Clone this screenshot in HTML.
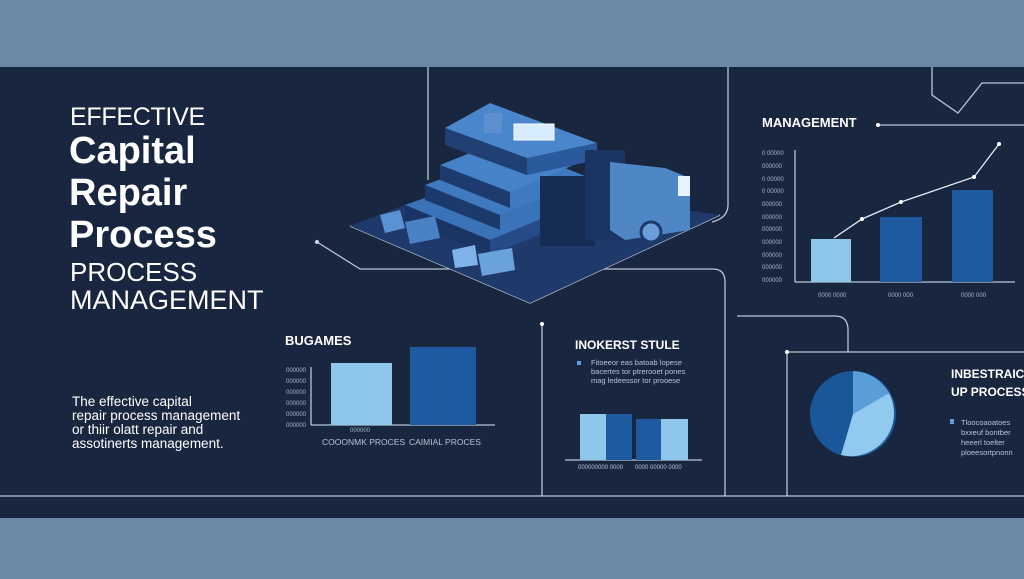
<!DOCTYPE html>
<html><head><meta charset="utf-8"><style>
html,body{margin:0;padding:0;width:1024px;height:579px;overflow:hidden;background:#6c89a6;font-family:"Liberation Sans",sans-serif}
svg{position:absolute;left:0;top:0}
</style></head><body>
<svg width="1024" height="579" viewBox="0 0 1024 579" xmlns="http://www.w3.org/2000/svg" font-family="Liberation Sans, sans-serif">
<rect x="0" y="0" width="1024" height="67" fill="#6c89a6"/>
<rect x="0" y="67" width="1024" height="451" fill="#18263f"/>
<rect x="0" y="518" width="1024" height="61" fill="#6c89a6"/>
<g stroke="#b9c6d6" stroke-width="1.3" fill="none">
<line x1="0" y1="496" x2="1024" y2="496"/>
<line x1="428" y1="67" x2="428" y2="180"/>
<path d="M728 67 V205 Q728 218 712 222"/>
<circle cx="317" cy="242" r="1.5" fill="#fff"/>
<path d="M317 242 L360 269 H713 Q725 269 725 282 V496"/>
<path d="M350 226 L530 303 L720 215"/>
<line x1="542" y1="324" x2="542" y2="496"/>
<path d="M737 316 H835 Q848 316 848 330 V352"/>
<path d="M787 496 V352 H1024"/>
<path d="M932 67 V95 L958 113 L982 83 H1024"/>
<line x1="878" y1="125" x2="1024" y2="125"/>
<line x1="795" y1="150" x2="795" y2="282"/>
<line x1="795" y1="282" x2="1015" y2="282"/>
<line x1="311" y1="367" x2="311" y2="425"/>
<line x1="311" y1="425" x2="495" y2="425"/>
<line x1="565" y1="460" x2="702" y2="460"/>
</g>
<circle cx="542" cy="324" r="2" fill="#fff"/>
<circle cx="787" cy="352" r="2" fill="#fff"/>
<circle cx="878" cy="125" r="2" fill="#fff"/>
<!-- building -->
<polygon points="350,226 470,180 720,215 530,303" fill="#1f3a6a"/>
<polygon points="405,205 520,165 600,195 490,240" fill="#3b73b8"/>
<polygon points="405,205 490,240 490,255 405,220" fill="#1a3563"/>
<polygon points="490,240 600,195 600,210 490,255" fill="#254c88"/>
<polygon points="425,185 520,150 590,178 500,215" fill="#3f7ac0"/>
<polygon points="425,185 500,215 500,230 425,200" fill="#1c3a6b"/>
<polygon points="440,165 515,135 585,160 510,192" fill="#4582c8"/>
<polygon points="440,165 510,192 510,208 440,180" fill="#1d3b6d"/>
<polygon points="445,128 490,103 597,143 527,158" fill="#4a86cc"/>
<polygon points="445,128 527,158 527,175 445,145" fill="#203f73"/>
<polygon points="527,158 597,143 597,160 527,175" fill="#2b5a9c"/>
<rect x="514" y="124" width="40" height="16" fill="#d8ecff" stroke="#fff"/>
<rect x="484" y="113" width="18" height="20" fill="#5d8fd0"/>
<rect x="540" y="176" width="55" height="70" fill="#162c55"/>
<rect x="585" y="150" width="40" height="90" fill="#1b3562"/>
<polygon points="610,162 665,168 690,178 690,230 625,240 610,230" fill="#4f86c6"/>
<rect x="678" y="176" width="12" height="20" fill="#e9f3ff"/>
<circle cx="651" cy="232" r="10" fill="#6b9ed8" stroke="#1d3a6a" stroke-width="3"/>
<polygon points="380,215 400,210 405,228 385,233" fill="#5a92d4"/>
<polygon points="405,222 435,216 440,238 410,244" fill="#4a80c4"/>
<polygon points="452,250 475,245 478,265 455,268" fill="#7eb2e8"/>
<polygon points="478,254 512,248 515,270 482,276" fill="#6aa2de"/>
<!-- text left -->
<g fill="#ffffff">
<text x="70" y="125" font-size="25" letter-spacing="-0.3">EFFECTIVE</text>
<text x="69" y="163" font-size="38" font-weight="bold">Capital</text>
<text x="69" y="205" font-size="38" font-weight="bold">Repair</text>
<text x="69" y="247" font-size="38" font-weight="bold">Process</text>
<text x="70" y="281" font-size="26">PROCESS</text>
<text x="70" y="309" font-size="27">MANAGEMENT</text>
<text x="72" y="406" font-size="13.5">The effective capital</text>
<text x="72" y="420" font-size="13.5">repair process management</text>
<text x="72" y="434" font-size="13.5">or thiir olatt repair and</text>
<text x="72" y="448" font-size="13.5">assotinerts management.</text>
<text x="285" y="345" font-size="13" font-weight="bold">BUGAMES</text>
<text x="575" y="349" font-size="12" font-weight="bold">INOKERST STULE</text>
<text x="762" y="127" font-size="13" font-weight="bold">MANAGEMENT</text>
<text x="951" y="378" font-size="12" font-weight="bold">INBESTRAICS</text>
<text x="951" y="396" font-size="12" font-weight="bold">UP PROCESS</text>
</g>
<!-- BUGAMES chart -->
<rect x="331" y="363" width="61" height="62" fill="#8fc7ec"/>
<rect x="410" y="347" width="66" height="78" fill="#1e5aa0"/>
<g fill="#a9b7c8" font-size="6">
<text x="286" y="372">000000</text><text x="286" y="383">000000</text><text x="286" y="394">000000</text><text x="286" y="405">000000</text><text x="286" y="416">000000</text><text x="286" y="427">000000</text>
<text x="350" y="432">000000</text>
</g>
<g fill="#b6c3d3" font-size="8.5">
<text x="322" y="445">COOONMK PROCES</text><text x="409" y="445">CAIMIAL PROCES</text>
</g>
<!-- stule -->
<g fill="#b6c3d3" font-size="7.5">
<rect x="577" y="361" width="4" height="4" fill="#5a9ee0"/>
<text x="591" y="365">Fitoeeor eas batoab lopese</text>
<text x="591" y="374">bacertes tor ptrerooet pones</text>
<text x="591" y="383">mag ledeessor tor prooese</text>
<text x="578" y="469" font-size="6">000000000 0000</text>
<text x="635" y="469" font-size="6">0000 00000 0000</text>
</g>
<rect x="580" y="414" width="26" height="46" fill="#8fc7ec"/>
<rect x="606" y="414" width="26" height="46" fill="#1e5aa0"/>
<rect x="636" y="419" width="25" height="41" fill="#1e5aa0"/>
<rect x="661" y="419" width="27" height="41" fill="#8fc7ec"/>
<!-- management chart -->
<rect x="811" y="239" width="40" height="43" fill="#8fc7ec"/>
<rect x="880" y="217" width="42" height="65" fill="#1e5aa0"/>
<rect x="952" y="190" width="41" height="92" fill="#1e5aa0"/>
<polyline points="834,238 862,219 901,202 974,177 999,144" fill="none" stroke="#e6eef7" stroke-width="1.3"/>
<g fill="#fff"><circle cx="862" cy="219" r="2"/><circle cx="901" cy="202" r="2"/><circle cx="974" cy="177" r="2"/><circle cx="999" cy="144" r="2"/></g>
<g fill="#a9b7c8" font-size="6">
<text x="762" y="155">0 00000</text><text x="762" y="168">000000</text><text x="762" y="181">0 00000</text><text x="762" y="193">0 00000</text><text x="762" y="206">000000</text><text x="762" y="219">000000</text><text x="762" y="231">000000</text><text x="762" y="244">000000</text><text x="762" y="257">000000</text><text x="762" y="269">000000</text><text x="762" y="282">000000</text>
<text x="818" y="297">0000 0000</text><text x="888" y="297">0000 000</text><text x="961" y="297">0000 000</text>
</g>
<!-- pie -->
<circle cx="853" cy="414" r="43" fill="#1a5798"/>
<path d="M853 414 L853 371 A43 43 0 0 1 889 393 Z" fill="#5a9ed8"/>
<path d="M853 414 L889 393 A43 43 0 0 1 841 455 Z" fill="#92c9ee"/>
<g fill="#b6c3d3" font-size="7.5">
<rect x="950" y="419" width="4" height="5" fill="#5a9ee0"/>
<text x="961" y="425">Tloocoaoatoes</text>
<text x="961" y="435">bxxeuf bontber</text>
<text x="961" y="445">heeerl toelter</text>
<text x="961" y="455">ploeesortpnonn</text>
</g>
</svg>
</body></html>
